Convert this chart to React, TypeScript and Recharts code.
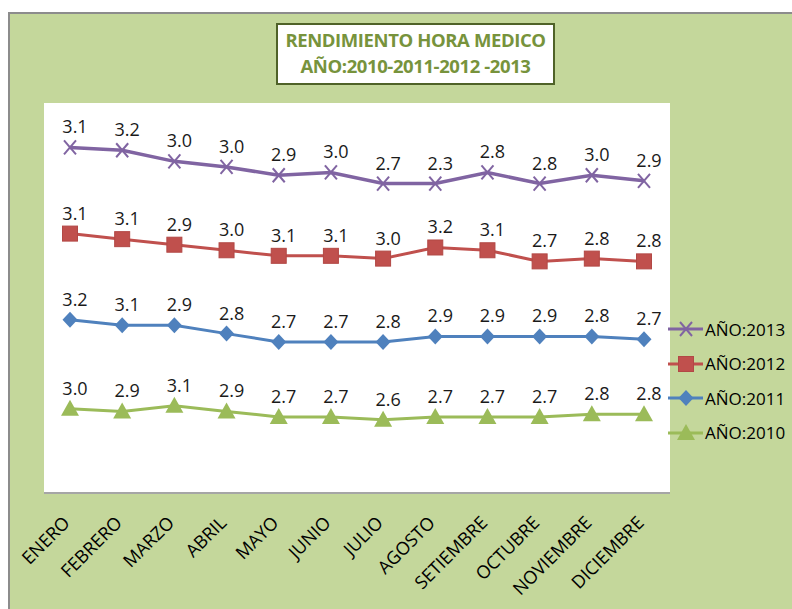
import React from "react";
import { Area, ComposedChart, XAxis, YAxis } from "recharts";

const months = [
  "ENERO", "FEBRERO", "MARZO", "ABRIL", "MAYO", "JUNIO",
  "JULIO", "AGOSTO", "SETIEMBRE", "OCTUBRE", "NOVIEMBRE", "DICIEMBRE"
];

const y2010 = [3.0, 2.9, 3.1, 2.9, 2.7, 2.7, 2.6, 2.7, 2.7, 2.7, 2.8, 2.8];
const y2011 = [3.2, 3.1, 2.9, 2.8, 2.7, 2.7, 2.8, 2.9, 2.9, 2.9, 2.8, 2.7];
const y2012 = [3.1, 3.1, 2.9, 3.0, 3.1, 3.1, 3.0, 3.2, 3.1, 2.7, 2.8, 2.8];
const y2013 = [3.1, 3.2, 3.0, 3.0, 2.9, 3.0, 2.7, 2.3, 2.8, 2.8, 3.0, 2.9];

type MarkerKind = "x" | "square" | "diamond" | "triangle";

type Series = {
  key: string;
  name: string;
  color: string;
  marker: MarkerKind;
  values: number[];
};

// stacking order: first one sits at the bottom
const series: Series[] = [
  { key: "a2010", name: "AÑO:2010", color: "#9bbb59", marker: "triangle", values: y2010 },
  { key: "a2011", name: "AÑO:2011", color: "#4f81bd", marker: "diamond", values: y2011 },
  { key: "a2012", name: "AÑO:2012", color: "#c0504d", marker: "square", values: y2012 },
  { key: "a2013", name: "AÑO:2013", color: "#8064a2", marker: "x", values: y2013 }
];

const data = months.map((month, i) => {
  const row: Record<string, string | number> = { month };
  series.forEach((s) => {
    row[s.key] = s.values[i];
  });
  return row;
});

const FONT = "'Open Sans', 'Noto Sans', sans-serif";

function Marker({ kind, cx, cy, color }: { kind: MarkerKind; cx: number; cy: number; color: string }) {
  if (kind === "x") {
    return (
      <g stroke={color} strokeWidth={2}>
        <line x1={cx - 6} y1={cy - 7} x2={cx + 6} y2={cy + 7} />
        <line x1={cx - 6} y1={cy + 7} x2={cx + 6} y2={cy - 7} />
      </g>
    );
  }
  if (kind === "square") {
    return <rect x={cx - 7.5} y={cy - 7.5} width={15} height={15} fill={color} stroke="#b24845" />;
  }
  if (kind === "diamond") {
    return (
      <polygon
        points={`${cx},${cy - 8} ${cx + 7.5},${cy} ${cx},${cy + 8} ${cx - 7.5},${cy}`}
        fill={color}
      />
    );
  }
  return (
    <polygon
      points={`${cx},${cy - 9} ${cx + 9},${cy + 7} ${cx - 9},${cy + 7}`}
      fill={color}
    />
  );
}

function MonthTick(props: any) {
  const { x, y, payload } = props;
  const ax = x + 1;
  const ay = y + 24;
  return (
    <text
      x={ax}
      y={ay}
      transform={`rotate(-45 ${ax} ${ay})`}
      textAnchor="end"
      fontSize={18}
      fontFamily={FONT}
      fill="#000"
    >
      {payload.value}
    </text>
  );
}

function Legend() {
  const rows = [...series].reverse();
  return (
    <div style={{ position: "absolute", left: 666, top: 312 }}>
      {rows.map((s) => (
        <div key={s.key} style={{ display: "flex", alignItems: "center", height: 34.5 }}>
          <svg width={38} height={24}>
            <line x1={2} y1={12} x2={37} y2={12} stroke={s.color} strokeWidth={3} />
            <Marker kind={s.marker} cx={20} cy={12} color={s.color} />
          </svg>
          <span style={{ fontFamily: FONT, fontSize: 17, color: "#000", marginLeft: 1 }}>{s.name}</span>
        </div>
      ))}
    </div>
  );
}

export default function App() {
  return (
    <div style={{ position: "absolute", left: 0, top: 0, width: 792, height: 609, background: "#fff", overflow: "hidden" }}>
      <div
        style={{
          position: "absolute",
          left: 8,
          top: 12,
          right: 0,
          bottom: 0,
          background: "#c4d79b",
          borderLeft: "2px solid #8c8c8c",
          borderTop: "2px solid #8c8c8c"
        }}
      />
      <div
        style={{
          position: "absolute",
          left: 44,
          top: 103,
          width: 626,
          height: 389,
          background: "#fff",
          borderBottom: "2px solid #a6a6a6"
        }}
      />
      <div
        style={{
          position: "absolute",
          left: 276,
          top: 23,
          width: 275,
          height: 56,
          background: "#fff",
          border: "2px solid #4f6228",
          color: "#77933c",
          fontFamily: FONT,
          fontWeight: 700,
          fontSize: 18.5,
          letterSpacing: -0.4,
          lineHeight: "26px",
          textAlign: "center",
          whiteSpace: "nowrap",
          paddingTop: 2,
          boxSizing: "content-box"
        }}
      >
        <div>RENDIMIENTO HORA MEDICO</div>
        <div>AÑO:2010-2011-2012 -2013</div>
      </div>
      <div style={{ position: "absolute", left: 0, top: 0 }}>
        <ComposedChart width={792} height={609} data={data} margin={{ top: 103, right: 122, bottom: 57, left: 44 }}>
          <XAxis
            dataKey="month"
            height={60}
            axisLine={false}
            tickLine={false}
            interval={0}
            padding={{ left: 26, right: 26 }}
            tick={<MonthTick />}
          />
          <YAxis hide domain={[0, 14]} />
          {series.map((s) => (
            <Area
              key={s.key}
              type="linear"
              dataKey={s.key}
              name={s.name}
              stackId="stack"
              stroke={s.color}
              strokeWidth={s.marker === "x" ? 3.5 : 3}
              fill="none"
              isAnimationActive={false}
              activeDot={false}
              dot={(p: any) => (
                <g key={`${s.key}-${p.index}`}>
                  <Marker kind={s.marker} cx={p.cx} cy={p.cy} color={s.color} />
                  <text
                    x={p.cx + 5}
                    y={p.cy - 14}
                    textAnchor="middle"
                    fontSize={18}
                    fontFamily={FONT}
                    fill="#1a1a1a"
                  >
                    {s.values[p.index].toFixed(1)}
                  </text>
                </g>
              )}
            />
          ))}
        </ComposedChart>
      </div>
      <Legend />
    </div>
  );
}
